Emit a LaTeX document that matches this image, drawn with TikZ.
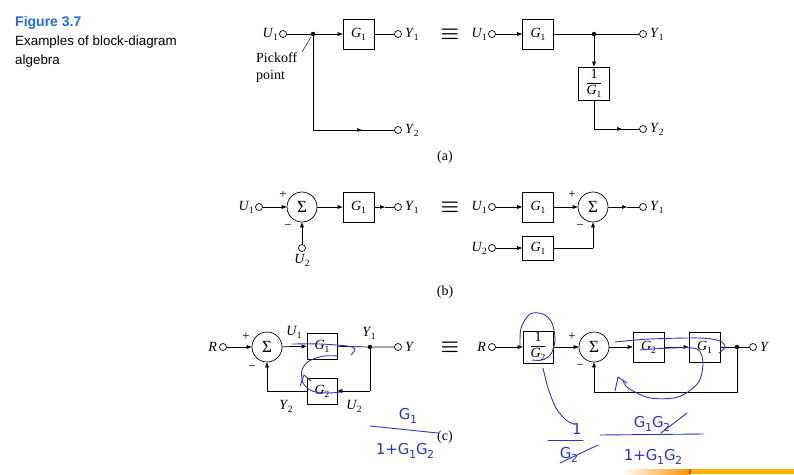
\documentclass[tikz,border=0pt]{standalone}
\usepackage{fontspec}
\setmainfont{Liberation Serif}
\newfontfamily\hsans{Liberation Sans}
\newfontfamily\hand{DejaVu Sans}
\usetikzlibrary{arrows.meta,calc}
\definecolor{figblue}{HTML}{1F6FE5}
\definecolor{pen}{HTML}{2B35C8}
\newcommand\sig[2]{\textit{#1}\kern-0.3pt\raisebox{-0.45ex}{\fontsize{9.5}{10}\selectfont #2}}
\newcommand\hsig[2]{#1\kern-0.5pt\raisebox{-0.5ex}{\fontsize{11}{11}\selectfont #2}}
\newcommand\invfrac[1]{{\renewcommand\arraystretch{0.95}\setlength\arrayrulewidth{0.5pt}\begin{tabular}{@{}c@{}}1\\\hline\rule{0pt}{11pt}#1\end{tabular}}}
\tikzset{
  wire/.style={line width=0.7pt},
  tip/.style={wire,-{Triangle[length=5pt,width=3.6pt]}},
  blk/.style={draw,line width=0.7pt,minimum width=31pt,minimum height=30pt,inner sep=0pt,font=\fontsize{14}{15}\selectfont},
  sumnode/.style={draw,circle,minimum size=30pt,inner sep=0pt,line width=0.7pt,font=\fontsize{17}{17}\selectfont},
  term/.style={draw,circle,minimum size=7pt,inner sep=0pt,line width=0.7pt,fill=white},
  dotn/.style={circle,fill,minimum size=4.4pt,inner sep=0pt},
  lab/.style={font=\fontsize{14}{17}\selectfont,inner sep=1pt},
  sgn/.style={font=\fontsize{13}{13}\selectfont,inner sep=0pt},
  eqv/.style={font=\fontsize{22}{22}\selectfont\boldmath,inner sep=0pt},
  penline/.style={draw=pen,line width=0.9pt,line cap=round,line join=round},
  pentext/.style={text=pen,font=\hand\fontsize{15}{16}\selectfont,inner sep=0pt}
}
\begin{document}
\begin{tikzpicture}[x=1pt,y=-1pt]
\useasboundingbox (0,0) rectangle (794,474);
\fill[white] (0,0) rectangle (794,474);
% ---------- caption ----------
\node[anchor=west,inner sep=0pt,text=figblue,font=\hsans\bfseries\fontsize{14}{16}\selectfont] (figt) at (15,23) {Figure 3.7};
\node[anchor=north west,inner sep=0pt,align=left,font=\hsans\fontsize{13.4}{19}\selectfont] (figc) at (15,36) {Examples of block-diagram\\algebra};
% ---------- (a) left ----------
\node[term] (a1in) at (283,34) {};
\node[lab,anchor=east] (a1inl) at (a1in.west) {\sig{U}{1}};
\node[dotn] (a1p) at (313,34) {};
\node[blk] (a1g) at (358.5,34) {\sig{G}{1}};
\node[term] (a1y1) at (398,34) {};
\node[lab,anchor=west] (a1y1l) at ([xshift=2pt]a1y1.east) {\sig{Y}{1}};
\node[term] (a1y2) at (398,130) {};
\node[lab,anchor=west] (a1y2l) at ([xshift=2pt]a1y2.east) {\sig{Y}{2}};
\coordinate (a1c) at (313,130);
\coordinate (a1m) at (362,130);
\draw[wire] (a1in) -- (a1p);
\draw[tip] (a1p) -- (a1g);
\draw[wire] (a1g) -- (a1y1);
\draw[wire] (a1p) -- (a1c) -- (a1y2);
\draw[tip] (a1c) -- (a1m);
\node[lab,anchor=north west,align=left] (pk) at (255,51) {Pickoff\\point};
\coordinate (pka) at (311,37);
\coordinate (pkb) at (302,52);
\draw[line width=0.5pt] (pka) -- (pkb);
\node[eqv] (eqa) at (450,34) {$\equiv$};
% ---------- (a) right ----------
\node[term] (a2in) at (492,34) {};
\node[lab,anchor=east] (a2inl) at (a2in.west) {\sig{U}{1}};
\node[blk] (a2g) at (538,34) {\sig{G}{1}};
\node[dotn] (a2p) at (594,34) {};
\node[term] (a2y1) at (643,34) {};
\node[lab,anchor=west] (a2y1l) at ([xshift=2pt]a2y1.east) {\sig{Y}{1}};
\node[blk,minimum height=33pt] (a2inv) at (594,83.5) {\invfrac{\sig{G}{1}}};
\node[term] (a2y2) at (643,129) {};
\node[lab,anchor=west] (a2y2l) at ([xshift=2pt]a2y2.east) {\sig{Y}{2}};
\coordinate (a2c) at (594,129);
\coordinate (a2m) at (622,129);
\draw[tip] (a2in) -- (a2g);
\draw[wire] (a2g) -- (a2p) -- (a2y1);
\draw[tip] (a2p) -- (a2inv);
\draw[wire] (a2inv) -- (a2c) -- (a2y2);
\draw[tip] (a2c) -- (a2m);
\node[lab] (capa) at (445,157) {(a)};
% ---------- (b) left ----------
\node[term] (b1in) at (259,207) {};
\node[lab,anchor=east] (b1inl) at (b1in.west) {\sig{U}{1}};
\node[sumnode] (b1s) at (302,207) {Σ};
\node[blk] (b1g) at (358.5,207) {\sig{G}{1}};
\node[term] (b1y) at (398,207) {};
\node[lab,anchor=west] (b1yl) at ([xshift=2pt]b1y.east) {\sig{Y}{1}};
\coordinate (b1m) at (385,207);
\node[term] (b1u2) at (302,248) {};
\node[lab,anchor=north] (b1u2l) at ([yshift=-1pt]b1u2.south) {\sig{U}{2}};
\node[sgn] (b1p) at (283,195) {+};
\node[sgn] (b1n) at (288,227) {−};
\draw[tip] (b1in) -- (b1s);
\draw[tip] (b1s) -- (b1g);
\draw[tip] (b1g) -- (b1m);
\draw[wire] (b1m) -- (b1y);
\draw[tip] (b1u2) -- (b1s);
\node[eqv] (eqb) at (450,207) {$\equiv$};
% ---------- (b) right ----------
\node[term] (b2in) at (492,207) {};
\node[lab,anchor=east] (b2inl) at (b2in.west) {\sig{U}{1}};
\node[blk] (b2g1) at (538,207) {\sig{G}{1}};
\node[sumnode] (b2s) at (593,207) {Σ};
\node[term] (b2y) at (643,207) {};
\node[lab,anchor=west] (b2yl) at ([xshift=2pt]b2y.east) {\sig{Y}{1}};
\coordinate (b2m) at (627,207);
\node[term] (b2u2) at (492,248) {};
\node[lab,anchor=east] (b2u2l) at (b2u2.west) {\sig{U}{2}};
\node[blk,minimum height=24pt] (b2g2) at (538,248) {\sig{G}{1}};
\coordinate (b2c) at (593,248);
\node[sgn] (b2p) at (572,195) {+};
\node[sgn] (b2n) at (580,227) {−};
\draw[tip] (b2in) -- (b2g1);
\draw[tip] (b2g1) -- (b2s);
\draw[tip] (b2s) -- (b2m);
\draw[wire] (b2m) -- (b2y);
\draw[tip] (b2u2) -- (b2g2);
\draw[wire] (b2g2) -- (b2c);
\draw[tip] (b2c) -- (b2s);
\node[lab] (capb) at (445,292) {(b)};
% ---------- (c) left ----------
\node[term] (c1in) at (223,347) {};
\node[lab,anchor=east] (c1inl) at ([xshift=-1pt]c1in.west) {\textit{R}};
\node[sumnode] (c1s) at (267,347) {Σ};
\node[blk,minimum height=26pt,minimum width=30pt] (c1g1) at (322,346) {\sig{G}{1}};
\node[dotn] (c1p) at (370,347) {};
\node[term] (c1y) at (398,347) {};
\node[lab,anchor=west] (c1yl) at ([xshift=2pt]c1y.east) {\textit{Y}};
\node[blk,minimum height=26pt,minimum width=30pt] (c1g2) at (322,391) {\sig{G}{2}};
\coordinate (c1a) at (370,391);
\coordinate (c1b) at (267,391);
\node[sgn] (c1pl) at (246,337) {+};
\node[sgn] (c1mi) at (252,368) {−};
\node[lab] (c1u1) at (294,332) {\sig{U}{1}};
\node[lab] (c1y1) at (369,333) {\sig{Y}{1}};
\node[lab] (c1y2) at (286,406) {\sig{Y}{2}};
\node[lab] (c1u2) at (354,406) {\sig{U}{2}};
\draw[tip] (c1in) -- (c1s);
\draw[tip] (c1s) -- (c1g1);
\draw[wire] (c1g1) -- (c1p) -- (c1y);
\draw[wire] (c1p) -- (c1a);
\draw[tip] (c1a) -- (c1g2);
\draw[wire] (c1g2) -- (c1b);
\draw[tip] (c1b) -- (c1s);
\node[eqv] (eqc) at (450,347) {$\equiv$};
\node[lab] (capc) at (445,437) {(c)};
% ---------- (c) right ----------
\node[term] (c2in) at (492,347) {};
\node[lab,anchor=east] (c2inl) at ([xshift=-1pt]c2in.west) {\textit{R}};
\node[blk,minimum height=32pt,minimum width=30pt] (c2inv) at (538,347) {\invfrac{\sig{G}{2}}};
\node[sumnode] (c2s) at (594,347) {Σ};
\node[blk] (c2g2) at (648.5,347) {\sig{G}{2}};
\node[blk] (c2g1) at (704.5,347) {\sig{G}{1}};
\node[dotn] (c2p) at (737,347) {};
\node[term] (c2y) at (753,347) {};
\node[lab,anchor=west] (c2yl) at ([xshift=2pt]c2y.east) {\textit{Y}};
\coordinate (c2a) at (737,392);
\coordinate (c2b) at (594,392);
\node[sgn] (c2pl) at (572,337) {+};
\node[sgn] (c2mi) at (580,367) {−};
\draw[tip] (c2in) -- (c2inv);
\draw[tip] (c2inv) -- (c2s);
\draw[tip] (c2s) -- (c2g2);
\draw[tip] (c2g2) -- (c2g1);
\draw[wire] (c2g1) -- (c2p) -- (c2y);
\draw[wire] (c2p) -- (c2a) -- (c2b);
\draw[tip] (c2b) -- (c2s);
% ---------- handwritten annotations ----------
\draw[penline] plot[smooth] coordinates {(292,344) (320,344) (347,346) (355,349) (351,355)};
\draw[penline] plot[smooth] coordinates {(338,356) (324,356) (309,361) (302,370) (303,383) (312,391) (328,393) (341,392)};
\draw[penline] (300,386) -- (304,375) -- (311,381);
\node[pentext] (h1) at (408,416) {\hsig{G}{1}};
\draw[penline] (370,426) -- (438,433);
\node[pentext] (h2) at (405,451) {1+\hsig{G}{1}\hsig{G}{2}};
\draw[penline] plot[smooth] coordinates {(520,348) (521,328) (530,314) (543,314) (552,323) (555,340) (551,354) (542,360) (532,360)};
\draw[penline] plot[smooth] coordinates {(543,368) (548,388) (556,408) (566,420) (574,424)};
\node[pentext] (h0) at (577,429) {1};
\draw[penline] (548,440) -- (583,440);
\node[pentext] (h3) at (569,455) {\hsig{G}{2}};
\draw[penline] (560,463) -- (598,445);
\node[pentext] (h4) at (652,424) {\hsig{G}{1}\hsig{G}{2}};
\draw[penline] (661,433) -- (687,413);
\draw[penline] (600,435) -- (703,434);
\node[pentext] (h5) at (653,457) {1+\hsig{G}{1}\hsig{G}{2}};
\draw[penline] plot[smooth] coordinates {(615,342) (650,339) (700,338) (720,341) (725,347) (719,353)};
\draw[penline] plot[smooth] coordinates {(640,350) (670,348) (697,349) (703,363) (698,383) (678,397) (650,398) (628,388) (623,380)};
\draw[penline] (615,391) -- (618,377) -- (627,383);
% ---------- orange bar ----------
\shade[left color=white,right color=orange!85!yellow] (623,469) rectangle (690,474);
\fill[orange!60!yellow] (690,469) rectangle (794,474);
\fill[orange!70!black] (689,469) rectangle (691,474);
\end{tikzpicture}
\end{document}
